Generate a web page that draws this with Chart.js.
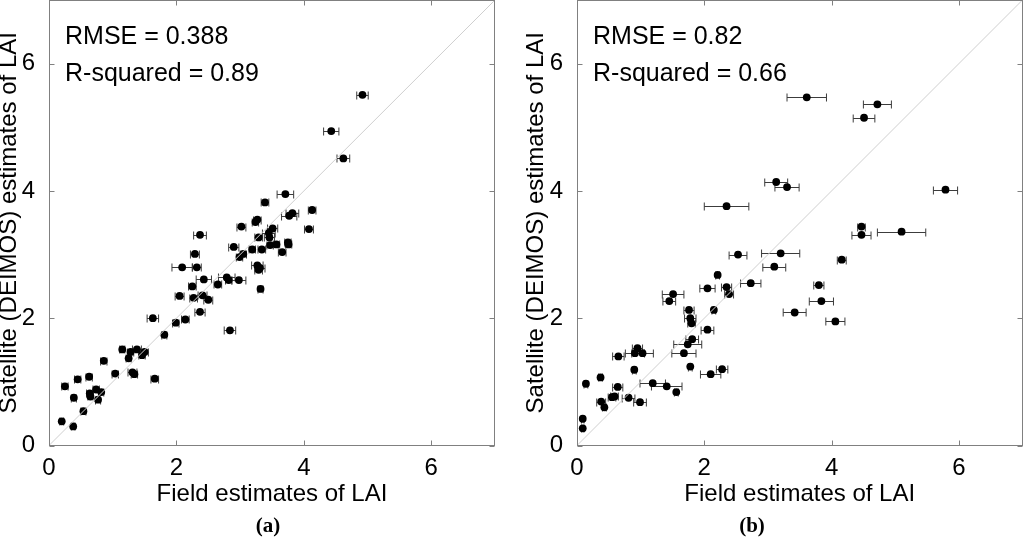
<!DOCTYPE html>
<html lang="en">

<head>
    <meta charset="UTF-8">
    <title>LAI scatter</title>
    <style>
        body {
            margin: 0;
            background: #fff;
            overflow: hidden;
        }

        .panel {
            position: absolute;
            top: 0;
            width: 512px;
            height: 545px;
        }
    </style>
    <script src="https://cdn.jsdelivr.net/npm/chart.js@4.4.1/dist/chart.umd.min.js"></script>
</head>

<body>
    <div class="panel" style="left:0"><canvas id="chartA" width="512" height="545"></canvas></div>
    <div class="panel" style="left:512px"><canvas id="chartB" width="512" height="545"></canvas></div>
    <script>
        // axis ticks (both axes, both panels)
        var tickValues = [0, 2, 4, 6];
        var axisMax = 7;
        var diagonal = [0, 7];

        // panel (a)
        var aField = [4.92, 4.43, 4.62, 3.71, 3.39, 4.13, 3.82, 3.77, 3.27, 3.24, 3.02, 2.37, 3.51, 4.08, 3.45, 3.29,
            3.46, 3.75, 3.76, 3.57, 3.47, 2.90, 3.19, 3.34, 3.66, 3.05, 2.99, 2.29, 2.09, 2.32, 3.27, 3.31, 3.29, 2.79,
            2.82, 2.43, 2.98, 2.65, 2.25, 2.05, 2.27, 2.41, 2.50, 3.32, 2.37, 1.63, 2.14, 1.99, 2.84, 1.81, 1.15, 1.38,
            1.28, 1.50, 1.25, 1.46, 0.86, 1.04, 1.31, 1.34, 1.66, 0.63, 0.45, 0.25, 0.39, 0.74, 0.64, 0.65, 0.82, 0.77,
            0.54, 0.20, 0.38];
        var aSat = [5.51, 4.94, 4.51, 3.95, 3.82, 3.70, 3.65, 3.61, 3.55, 3.51, 3.44, 3.31, 3.41, 3.40, 3.34, 3.27,
            3.27, 3.19, 3.16, 3.16, 3.15, 3.12, 3.08, 3.08, 3.04, 3.01, 2.96, 3.01, 2.80, 2.80, 2.83, 2.79, 2.76, 2.64,
            2.60, 2.61, 2.60, 2.53, 2.50, 2.35, 2.32, 2.36, 2.29, 2.46, 2.10, 2.00, 1.98, 1.93, 1.81, 1.74, 1.51, 1.51,
            1.47, 1.47, 1.37, 1.42, 1.33, 1.13, 1.15, 1.12, 1.05, 1.08, 1.04, 0.93, 0.75, 0.88, 0.82, 0.77, 0.84, 0.72,
            0.54, 0.38, 0.30];
        var aErr = [0.09, 0.12, 0.10, 0.13, 0.06, 0.06, 0.10, 0.12, 0.06, 0.05, 0.07, 0.10, 0.08, 0.07, 0.10, 0.06,
            0.08, 0.05, 0.05, 0.05, 0.05, 0.08, 0.05, 0.06, 0.06, 0.05, 0.05, 0.07, 0.16, 0.07, 0.09, 0.08, 0.06, 0.13,
            0.05, 0.12, 0.11, 0.06, 0.06, 0.07, 0.06, 0.07, 0.07, 0.04, 0.08, 0.09, 0.06, 0.05, 0.09, 0.04, 0.04, 0.07,
            0.05, 0.06, 0.04, 0.05, 0.05, 0.05, 0.07, 0.05, 0.06, 0.05, 0.05, 0.05, 0.04, 0.05, 0.05, 0.04, 0.04, 0.04,
            0.04, 0.03, 0.03];
        var aStats = ["RMSE = 0.388", "R-squared = 0.89"];

        // panel (b)
        var bField = [3.61, 4.72, 4.51, 3.13, 3.30, 5.79, 2.35, 4.47, 4.47, 5.10, 2.53, 3.20, 4.16, 3.10, 2.21, 2.73,
            3.80, 2.05, 2.35, 2.39, 1.51, 1.45, 3.84, 1.76, 2.15, 3.42, 1.78, 1.80, 4.06, 2.05, 1.81, 1.74, 0.95, 0.91,
            1.03, 0.65, 1.68, 0.90, 1.78, 2.28, 2.10, 0.37, 0.14, 1.19, 1.41, 0.64, 1.56, 0.59, 0.55, 0.81, 0.38, 0.99,
            0.43, 0.09, 0.09];
        var bSat = [5.47, 5.36, 5.15, 4.14, 4.06, 4.02, 3.76, 3.44, 3.31, 3.36, 3.00, 3.02, 2.92, 2.81, 2.68, 2.55,
            2.52, 2.47, 2.49, 2.38, 2.38, 2.27, 2.27, 2.13, 2.13, 2.09, 2.00, 1.92, 1.95, 1.82, 1.67, 1.59, 1.53, 1.45,
            1.45, 1.40, 1.45, 1.19, 1.24, 1.20, 1.12, 1.07, 0.97, 0.98, 0.93, 0.92, 0.84, 0.77, 0.76, 0.75, 0.69, 0.68,
            0.60, 0.42, 0.27];
        var bErr = [0.31, 0.22, 0.17, 0.18, 0.19, 0.19, 0.35, 0.06, 0.15, 0.38, 0.14, 0.30, 0.07, 0.18, 0.03, 0.16,
            0.08, 0.12, 0.08, 0.07, 0.17, 0.10, 0.19, 0.08, 0.03, 0.18, 0.09, 0.06, 0.15, 0.10, 0.10, 0.22, 0.08, 0.15,
            0.17, 0.09, 0.19, 0.03, 0.03, 0.09, 0.16, 0.03, 0.03, 0.20, 0.24, 0.08, 0.03, 0.06, 0.06, 0.10, 0.07, 0.10,
            0.03, 0.02, 0.02];
        var bStats = ["RMSE = 0.82", "R-squared = 0.66"];

        var sansFont = "'Liberation Sans', Arial, sans-serif";
        var boxColor = "#808080";

        // error bars, frame with inward ticks, stats text and panel caption
        var framePlugin = {
            id: 'frame',
            beforeDatasetsDraw: function (chart) {
                var ctx = chart.ctx;
                var xs = chart.scales.x, ys = chart.scales.y;
                var ds = chart.data.datasets[1];
                ctx.save();
                ctx.strokeStyle = "#3c3c3c";
                ctx.lineWidth = 1;
                ds.data.forEach(function (p, i) {
                    var e = ds.errX[i];
                    var x1 = xs.getPixelForValue(p.x - e);
                    var x2 = xs.getPixelForValue(p.x + e);
                    var py = Math.round(ys.getPixelForValue(p.y)) + 0.5;
                    ctx.beginPath();
                    ctx.moveTo(x1, py);
                    ctx.lineTo(x2, py);
                    ctx.moveTo(x1, py - 4);
                    ctx.lineTo(x1, py + 4);
                    ctx.moveTo(x2, py - 4);
                    ctx.lineTo(x2, py + 4);
                    ctx.stroke();
                });
                ctx.restore();
            },
            afterDraw: function (chart) {
                var ctx = chart.ctx;
                var a = chart.chartArea;
                var xs = chart.scales.x, ys = chart.scales.y;
                var info = chart.config.options.panelInfo;
                var L = Math.round(a.left) + 0.5, R = Math.round(a.right) - 0.5;
                var T = Math.round(a.top) + 0.5, B = Math.round(a.bottom) - 0.5;
                ctx.save();
                ctx.strokeStyle = boxColor;
                ctx.lineWidth = 1;
                ctx.strokeRect(L, T, R - L, B - T);
                ctx.beginPath();
                tickValues.forEach(function (v) {
                    var px = Math.round(xs.getPixelForValue(v)) + 0.5;
                    var py = Math.round(ys.getPixelForValue(v)) + 0.5;
                    ctx.moveTo(px, B); ctx.lineTo(px, B - 5);
                    ctx.moveTo(px, T); ctx.lineTo(px, T + 5);
                    ctx.moveTo(L, py); ctx.lineTo(L + 5, py);
                    ctx.moveTo(R, py); ctx.lineTo(R - 5, py);
                });
                ctx.stroke();

                ctx.fillStyle = "#000";
                ctx.font = "25px " + sansFont;
                ctx.textAlign = "left";
                ctx.textBaseline = "alphabetic";
                ctx.fillText(info.stats[0], a.left + 16, a.top + 44);
                ctx.fillText(info.stats[1], a.left + 16, a.top + 81);

                ctx.font = "bold 21px 'Liberation Serif', 'Times New Roman', serif";
                ctx.textAlign = "center";
                ctx.textBaseline = "middle";
                ctx.fillText(info.caption, info.captionX, 527);
                ctx.restore();
            }
        };

        function makePoints(xv, yv) {
            return xv.map(function (v, i) {
                return { x: v, y: yv[i] };
            });
        }

        function show(id, field, sat, err, stats, caption, captionX, yWidth, yTitlePad, rightPad) {
            var ctx = document.getElementById(id).getContext('2d');
            return new Chart(ctx, {
                type: 'scatter',
                data: {
                    datasets: [{
                        type: 'line',
                        data: makePoints(diagonal, diagonal),
                        borderColor: "#cfcfcf",
                        borderWidth: 1,
                        pointRadius: 0,
                        fill: false
                    }, {
                        data: makePoints(field, sat),
                        errX: err,
                        backgroundColor: "#000",
                        borderWidth: 0,
                        pointRadius: 3.9,
                        pointHoverRadius: 3.9
                    }]
                },
                plugins: [framePlugin],
                options: {
                    responsive: false,
                    animation: false,
                    events: [],
                    panelInfo: { stats: stats, caption: caption, captionX: captionX },
                    layout: {
                        autoPadding: false,
                        padding: { top: 0, right: rightPad, bottom: 0, left: 0 }
                    },
                    plugins: {
                        legend: { display: false },
                        title: { display: false },
                        tooltip: { enabled: false }
                    },
                    scales: {
                        x: {
                            type: 'linear',
                            min: 0,
                            max: axisMax,
                            grid: { display: false },
                            border: { display: false },
                            afterBuildTicks: function (scale) {
                                scale.ticks = tickValues.map(function (v) { return { value: v }; });
                            },
                            afterFit: function (scale) {
                                scale.height = 99.5;
                                scale.paddingLeft = 0;
                                scale.paddingRight = 0;
                            },
                            ticks: {
                                color: "#000",
                                padding: 0,
                                maxRotation: 0,
                                font: { family: sansFont, size: 24 }
                            },
                            title: {
                                display: true,
                                text: "Field estimates of LAI",
                                color: "#000",
                                padding: { top: 0, bottom: 36 },
                                font: { family: sansFont, size: 24 }
                            }
                        },
                        y: {
                            type: 'linear',
                            min: 0,
                            max: axisMax,
                            grid: { display: false },
                            border: { display: false },
                            afterBuildTicks: function (scale) {
                                scale.ticks = tickValues.map(function (v) { return { value: v }; });
                            },
                            afterFit: function (scale) {
                                scale.width = yWidth;
                                scale.paddingTop = 0;
                                scale.paddingBottom = 0;
                            },
                            ticks: {
                                color: "#000",
                                padding: 6,
                                font: { family: sansFont, size: 24 }
                            },
                            title: {
                                display: true,
                                text: "Satellite (DEIMOS) estimates of LAI",
                                color: "#000",
                                padding: { top: yTitlePad, bottom: 0 },
                                font: { family: sansFont, size: 24, lineHeight: 0.8 }
                            }
                        }
                    }
                }
            });
        }

        show("chartA", aField, aSat, aErr, aStats, "(a)", 268, 49, 0, 17);
        show("chartB", bField, bSat, bErr, bStats, "(b)", 240, 65, 15, 1.5);
    </script>
</body>

</html>
